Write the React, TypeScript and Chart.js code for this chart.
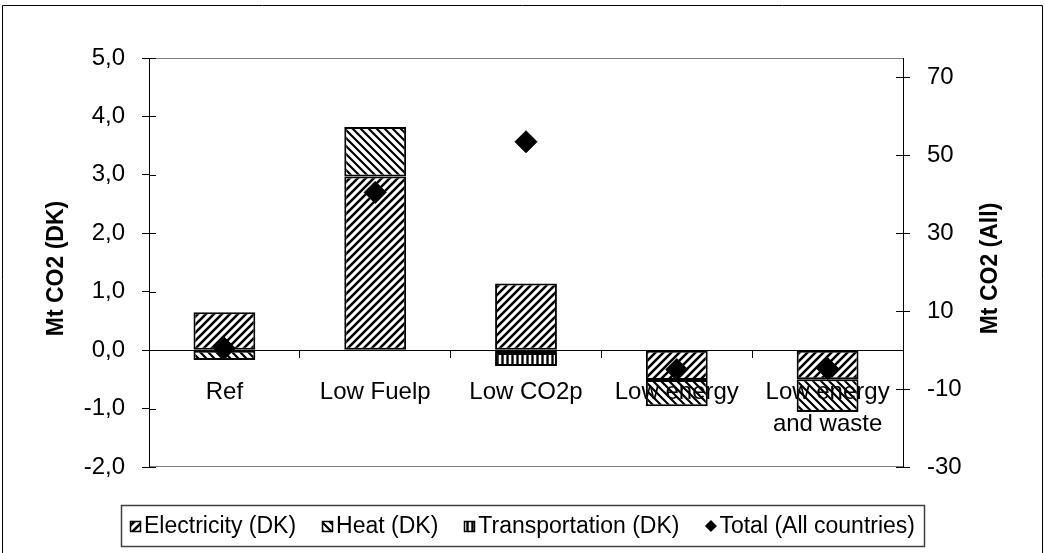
import React, { useEffect, useRef } from 'react';
import { Chart, registerables } from 'chart.js';

Chart.register(...registerables);

const categories: (string | string[])[] = ['Ref', 'Low Fuelp', 'Low CO2p', 'Low energy', ['Low energy', 'and waste']];
const electricity = [0.65, 2.97, 1.14, -0.51, -0.5];
const heat = [-0.17, 0.85, -0.05, -0.45, -0.56];
const transportation = [0, 0, -0.22, 0, 0];
const totalAll = [0.5, 40.5, 53.5, -5.0, -4.7];
const leftTicks = [-2, -1, 0, 1, 2, 3, 4, 5];
const rightTicks = [-30, -10, 10, 30, 50, 70];
const seriesNames = ['Electricity (DK)', 'Heat (DK)', 'Transportation (DK)', 'Total (All countries)'];
const leftTitle = 'Mt CO2 (DK)';
const rightTitle = 'Mt CO2 (All)';

const FONT = "'Liberation Sans', Arial, sans-serif";

function makeTile(kind: string, size: number, lw: number): HTMLCanvasElement {
  const c = document.createElement('canvas');
  c.width = size;
  c.height = size;
  const g = c.getContext('2d')!;
  g.fillStyle = '#fff';
  g.fillRect(0, 0, size, size);
  g.strokeStyle = '#000';
  g.lineWidth = lw;
  g.beginPath();
  if (kind === 'fwd') {
    g.moveTo(-2, size + 2); g.lineTo(size + 2, -2);
    g.moveTo(-2, 2); g.lineTo(2, -2);
    g.moveTo(size - 2, size + 2); g.lineTo(size + 2, size - 2);
  } else if (kind === 'back') {
    g.moveTo(-2, -2); g.lineTo(size + 2, size + 2);
    g.moveTo(size - 2, -2); g.lineTo(size + 2, 2);
    g.moveTo(-2, size - 2); g.lineTo(2, size + 2);
  } else {
    g.moveTo(size / 2, 0); g.lineTo(size / 2, size);
  }
  g.stroke();
  return c;
}

export default function App() {
  const canvasRef = useRef<HTMLCanvasElement | null>(null);

  useEffect(() => {
    const canvas = canvasRef.current!;
    const ctx = canvas.getContext('2d')!;
    const pElec = ctx.createPattern(makeTile('fwd', 8, 2.6), 'repeat')!;
    const pHeat = ctx.createPattern(makeTile('back', 8, 2.2), 'repeat')!;
    const pTrans = ctx.createPattern(makeTile('vert', 5, 2.4), 'repeat')!;
    const fills = [pElec, pHeat, pTrans];

    const framePlugin = {
      id: 'frame',
      beforeDraw(chart: any) {
        const c = chart.ctx;
        c.save();
        c.fillStyle = '#fff';
        c.fillRect(0, 0, chart.width, chart.height);
        c.strokeStyle = '#000';
        c.lineWidth = 1;
        c.beginPath();
        c.moveTo(2.5, chart.height + 2);
        c.lineTo(2.5, 5.5);
        c.lineTo(1042.5, 5.5);
        c.lineTo(1042.5, chart.height + 2);
        c.stroke();
        const a = chart.chartArea;
        c.strokeStyle = '#808080';
        c.beginPath();
        c.moveTo(a.left, Math.round(a.top) + 0.5);
        c.lineTo(a.right, Math.round(a.top) + 0.5);
        c.moveTo(a.left, Math.round(a.bottom) - 0.5);
        c.lineTo(a.right, Math.round(a.bottom) - 0.5);
        c.stroke();
        c.restore();
      },
      afterDraw(chart: any) {
        const c = chart.ctx;
        const a = chart.chartArea;
        c.save();
        c.strokeStyle = '#000';
        c.lineWidth = 1;
        c.beginPath();
        const ys = chart.scales.y;
        ys.ticks.forEach((t: any) => {
          const py = Math.round(ys.getPixelForValue(t.value)) + 0.5;
          c.moveTo(a.left, py);
          c.lineTo(a.left + 7, py);
        });
        const y2 = chart.scales.y2;
        y2.ticks.forEach((t: any) => {
          const py = Math.round(y2.getPixelForValue(t.value)) + 0.5;
          c.moveTo(a.right - 7, py);
          c.lineTo(a.right, py);
        });
        c.stroke();

        c.fillStyle = '#000';
        c.font = `bold 23px ${FONT}`;
        c.textAlign = 'center';
        c.textBaseline = 'middle';
        const cy = (a.top + a.bottom) / 2 + 6;
        c.save();
        c.translate(a.left - 92, cy);
        c.rotate(-Math.PI / 2);
        c.fillText(leftTitle, 0, 0);
        c.restore();
        c.save();
        c.translate(a.right + 88, cy);
        c.rotate(-Math.PI / 2);
        c.fillText(rightTitle, 0, 0);
        c.restore();

        // legend
        c.font = `23px ${FONT}`;
        const icon = 11;
        const gapIcon = 3;
        const gapItem = 26;
        const boxPad = 9;
        const widths = seriesNames.map((n) => c.measureText(n).width);
        const total = widths.reduce((s, w) => s + w, 0) + seriesNames.length * (icon + gapIcon) + (seriesNames.length - 1) * gapItem;
        const cx = chart.width / 2;
        const boxTop = 505.5;
        const boxBottom = 546.5;
        const midY = (boxTop + boxBottom) / 2;
        const boxLeft = Math.round(cx - total / 2 - boxPad) + 0.5;
        const boxRight = Math.round(cx + total / 2 + boxPad) + 0.5;
        c.strokeStyle = '#404040';
        c.lineWidth = 1.5;
        c.strokeRect(boxLeft, boxTop, boxRight - boxLeft, boxBottom - boxTop);
        let x = cx - total / 2;
        c.textAlign = 'left';
        seriesNames.forEach((n, i) => {
          const iy = Math.round(midY - icon / 2);
          if (i < 3) {
            c.fillStyle = fills[i];
            c.fillRect(Math.round(x), iy, icon, icon);
            c.strokeStyle = '#000';
            c.lineWidth = 1.5;
            c.strokeRect(Math.round(x) + 0.5, iy + 0.5, icon - 1, icon - 1);
          } else {
            c.fillStyle = '#000';
            c.beginPath();
            c.moveTo(x + icon / 2, midY - 6);
            c.lineTo(x + icon / 2 + 6, midY);
            c.lineTo(x + icon / 2, midY + 6);
            c.lineTo(x + icon / 2 - 6, midY);
            c.closePath();
            c.fill();
          }
          c.fillStyle = '#000';
          c.fillText(n, x + icon + gapIcon, midY + 1);
          x += icon + gapIcon + widths[i] + gapItem;
        });
        c.restore();
      },
    };

    const chart = new Chart(canvas, {
      type: 'bar',
      data: {
        labels: categories as any,
        datasets: [
          {
            type: 'bar',
            label: seriesNames[0],
            data: electricity,
            backgroundColor: pElec as any,
            borderColor: '#000',
            borderWidth: 2,
            borderSkipped: false,
            stack: 's',
            order: 2,
          },
          {
            type: 'bar',
            label: seriesNames[1],
            data: heat,
            backgroundColor: pHeat as any,
            borderColor: '#000',
            borderWidth: 2,
            borderSkipped: false,
            stack: 's',
            order: 2,
          },
          {
            type: 'bar',
            label: seriesNames[2],
            data: transportation,
            backgroundColor: pTrans as any,
            borderColor: '#000',
            borderWidth: 2,
            borderSkipped: false,
            stack: 's',
            order: 2,
          },
          {
            type: 'line',
            label: seriesNames[3],
            data: totalAll,
            yAxisID: 'y2',
            showLine: false,
            pointStyle: 'rectRot',
            pointRadius: 11,
            pointBackgroundColor: '#000',
            pointBorderColor: '#000',
            pointBorderWidth: 1,
            order: 1,
          } as any,
        ],
      },
      options: {
        responsive: false,
        animation: false,
        layout: { padding: { top: 58, bottom: 86, left: 0, right: 0 } },
        plugins: {
          legend: { display: false },
          tooltip: { enabled: false },
          title: { display: false },
        },
        datasets: { bar: { categoryPercentage: 1, barPercentage: 0.41 } } as any,
        scales: {
          x: {
            stacked: true,
            position: { y: 0 } as any,
            grid: { offset: true, drawOnChartArea: false, drawTicks: true, tickLength: 7, color: '#000' },
            border: { display: true, color: '#000', width: 1 },
            ticks: {
              z: 1,
              font: { family: FONT, size: 24, lineHeight: 1.33 },
              color: '#000',
              padding: 19,
              maxRotation: 0,
              autoSkip: false,
            } as any,
          },
          y: {
            stacked: true,
            position: 'left',
            min: -2,
            max: 5,
            afterBuildTicks: (s: any) => {
              s.ticks = leftTicks.map((v) => ({ value: v }));
            },
            afterFit: (s: any) => {
              s.width = 149;
            },
            grid: { drawOnChartArea: false, tickLength: 7, color: '#000' },
            border: { display: true, color: '#000', width: 1 },
            ticks: {
              font: { family: FONT, size: 24 },
              color: '#000',
              padding: 17,
              callback: (v: any) => Number(v).toFixed(1).replace('.', ','),
            },
          },
          y2: {
            position: 'right',
            min: -30,
            max: 75,
            afterBuildTicks: (s: any) => {
              s.ticks = rightTicks.map((v) => ({ value: v }));
            },
            afterFit: (s: any) => {
              s.width = 142;
            },
            grid: { drawOnChartArea: false, tickLength: 7, color: '#000' },
            border: { display: true, color: '#000', width: 1 },
            ticks: {
              font: { family: FONT, size: 24 },
              color: '#000',
              padding: 17,
              callback: (v: any) => String(v),
            },
          },
        },
      },
      plugins: [framePlugin],
    });

    return () => {
      chart.destroy();
    };
  }, []);

  return (
    <div style={{ position: 'absolute', left: 0, top: 0, width: 1045, height: 553 }}>
      <canvas ref={canvasRef} width={1045} height={553} style={{ display: 'block' }} />
    </div>
  );
}
